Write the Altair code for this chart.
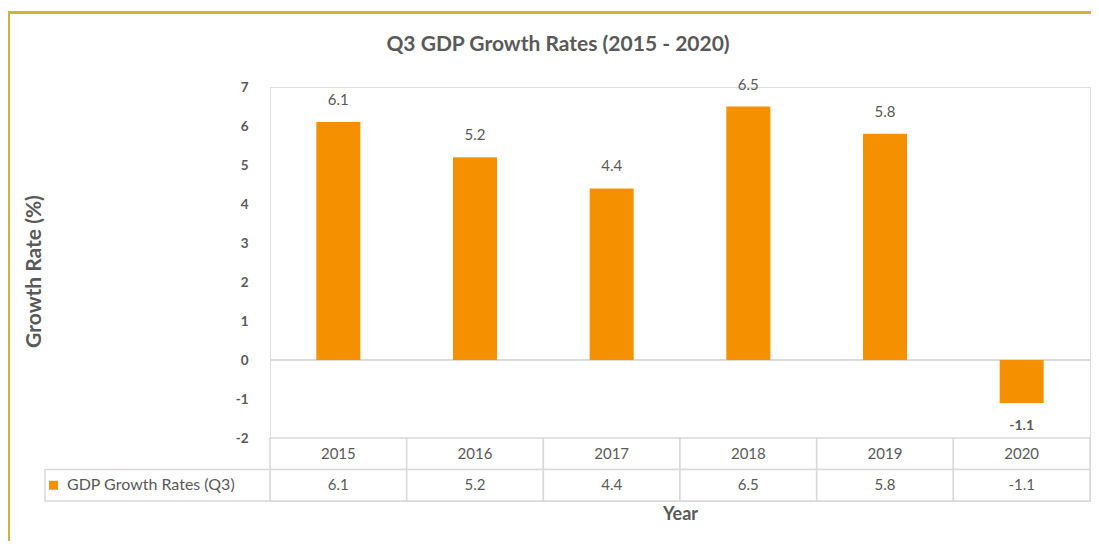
import altair as alt
import pandas as pd

years = ["2015", "2016", "2017", "2018", "2019", "2020"]
values = [6.1, 5.2, 4.4, 6.5, 5.8, -1.1]
y_ticks = [-2, -1, 0, 1, 2, 3, 4, 5, 6, 7]
series_name = "GDP Growth Rates (Q3)"
table_rows = ["Year", series_name]

FONT = "Lato"
GRAY = "#595959"
ORANGE = "#F59100"
LINE = "#D9D9D9"
GOLD = "#D4AF37"

bar_df = pd.DataFrame({"Year": years, "value": values})
table_df = pd.DataFrame(
    [{"Year": y, "row": "Year", "label": y} for y in years]
    + [{"Year": y, "row": series_name, "label": f"{v:.1f}"} for y, v in zip(years, values)]
)
legend_df = pd.DataFrame({"row": [series_name], "label": [series_name]})

x_enc = alt.X(
    "Year:N", sort=years,
    scale=alt.Scale(paddingInner=0, paddingOuter=0),
    axis=alt.Axis(title="Year", labels=False, ticks=False, domain=False,
                  titlePadding=4, titleFontSize=18, titleFontWeight="bold",
                  titleColor=GRAY, titleFont=FONT),
)

y_bar = alt.Y(
    "value:Q",
    scale=alt.Scale(domain=[-2, 7], range=[351, 0], nice=False, zero=False),
    axis=alt.Axis(values=y_ticks, title="Growth Rate (%)", grid=False, ticks=False,
                  domain=False, labelPadding=22, labelFontSize=13.5, labelColor=GRAY,
                  labelFont=FONT, labelFontWeight="bold",
                  labelExpr="toString(datum.value)",
                  titleFontSize=21, titleFontWeight="bold", titleColor=GRAY, titleFont=FONT,
                  titleAngle=270, titleX=-236, titleY=184, titleAlign="center",
                  titleBaseline="middle"),
)

base = alt.Chart(bar_df).transform_calculate(txt="toString(datum.value)")
bars = base.mark_bar(width=44, color=ORANGE).encode(x=x_enc, y=y_bar)
zero_line = base.mark_rule(color=LINE, strokeWidth=1).encode(y=alt.datum(0))
pos_labels = base.transform_filter("datum.value >= 0").mark_text(
    dy=-22, fontSize=15, color=GRAY, font=FONT, baseline="middle"
).encode(x=x_enc, y=y_bar, text="txt:N")
neg_labels = base.transform_filter("datum.value < 0").mark_text(
    dy=23, fontSize=14, color=GRAY, font=FONT, baseline="middle", fontWeight="bold"
).encode(x=x_enc, y=y_bar, text="txt:N")

# decorative chart frame (top and left edges)
frame_left = base.mark_rule(color=GOLD, strokeWidth=2).encode(
    x=alt.value(-261), y=alt.value(-75), y2=alt.value(470))
frame_top = base.mark_rule(color=GOLD, strokeWidth=2).encode(
    x=alt.value(-262), x2=alt.value(830), y=alt.value(-74.5))

bar_layer = alt.layer(frame_left, frame_top, zero_line, bars, pos_labels, neg_labels)

y_row = alt.Y(
    "row:N", sort=table_rows,
    scale=alt.Scale(domain=table_rows, range=[351, 414], paddingInner=0, paddingOuter=0),
    axis=None,
)

tbase = alt.Chart(table_df)
cells = tbase.mark_rect(fill="white", stroke=LINE, strokeWidth=1.5).encode(x=x_enc, y=y_row)
cell_text = tbase.mark_text(fontSize=15, color=GRAY, font=FONT, baseline="middle").encode(
    x=x_enc, y=y_row, text="label:N")

lbase = alt.Chart(legend_df)
legend_cell = lbase.mark_rect(fill="white", stroke=LINE, strokeWidth=1.5).encode(
    x=alt.value(-225), x2=alt.value(0), y=y_row)
legend_swatch = lbase.mark_point(shape="square", filled=True, color=ORANGE, size=81, opacity=1).encode(
    x=alt.value(-216.5), y=y_row)
legend_text = lbase.mark_text(fontSize=16, color=GRAY, font=FONT, align="left", baseline="middle").encode(
    x=alt.value(-203), y=y_row, text="label:N")

table_layer = alt.layer(cells, cell_text, legend_cell, legend_swatch, legend_text)

chart = alt.layer(bar_layer, table_layer).resolve_scale(y="independent").properties(
    width=820, height=414,
    title=alt.TitleParams("Q3 GDP Growth Rates (2015 - 2020)", fontSize=21, fontWeight="bold",
                          color=GRAY, font=FONT, anchor="middle", dx=-122, dy=64, offset=20),
    autosize=alt.AutoSizeParams(type="none"),
    padding={"left": 262, "top": 79, "right": 1, "bottom": 40},
).configure_view(stroke=None).configure(background="white")

chart.save("out.html", embed_options={"renderer": "svg", "actions": False})
